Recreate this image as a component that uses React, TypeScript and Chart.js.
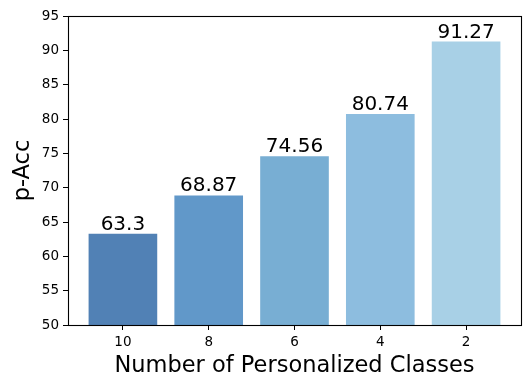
import React, { useEffect, useRef } from "react";
import { Chart, registerables } from "chart.js";

Chart.register(...registerables);

const categories: string[] = ["10", "8", "6", "4", "2"];
const values: number[] = [63.3, 68.87, 74.56, 80.74, 91.27];
const valueLabels: string[] = ["63.3", "68.87", "74.56", "80.74", "91.27"];
const barColors: string[] = ["#5181b5", "#6198c9", "#78aed3", "#8dbddf", "#a8d0e6"];
const yTicks: number[] = [50, 55, 60, 65, 70, 75, 80, 85, 90, 95];

const FONT = "'DejaVu Sans', sans-serif";

const frameAndLabels = {
  id: "frameAndLabels",
  afterDatasetsDraw(chart: any) {
    const { ctx, chartArea } = chart;
    const meta = chart.getDatasetMeta(0);
    ctx.save();
    ctx.fillStyle = "#000";
    ctx.font = `20px ${FONT}`;
    ctx.textAlign = "center";
    ctx.textBaseline = "alphabetic";
    meta.data.forEach((bar: any, i: number) => {
      ctx.fillText(valueLabels[i], bar.x, bar.y - 4);
    });
    ctx.strokeStyle = "#000";
    ctx.lineWidth = 1.1;
    ctx.strokeRect(
      Math.round(chartArea.left) + 0.5,
      Math.round(chartArea.top) + 0.5,
      Math.round(chartArea.right) - Math.round(chartArea.left),
      Math.round(chartArea.bottom) - Math.round(chartArea.top)
    );
    ctx.restore();
  },
};

export default function App() {
  const ref = useRef<HTMLCanvasElement | null>(null);

  useEffect(() => {
    document.body.style.margin = "0";
    if (!ref.current) return;
    const chart = new Chart(ref.current, {
      type: "bar",
      data: {
        datasets: [
          {
            data: values.map((v, i) => ({ x: i, y: v })),
            backgroundColor: barColors,
            borderWidth: 0,
            barPercentage: 0.8,
            categoryPercentage: 1,
          },
        ],
      },
      options: {
        animation: false,
        responsive: false,
        devicePixelRatio: 1,
        layout: { padding: { left: 0, right: 11, top: 16, bottom: 0 } },
        plugins: { legend: { display: false }, tooltip: { enabled: false } },
        scales: {
          x: {
            type: "linear",
            min: -0.64,
            max: 4.64,
            offset: false,
            afterBuildTicks: (axis: any) => {
              axis.ticks = categories.map((_, i) => ({ value: i }));
            },
            afterFit: (scale: any) => {
              scale.height = 65;
            },
            grid: {
              display: true,
              offset: false,
              drawOnChartArea: false,
              drawTicks: true,
              tickLength: 5,
              tickColor: "#000",
              tickWidth: 1,
            },
            border: { display: false },
            ticks: {
              color: "#000",
              font: { family: FONT, size: 13.5 },
              padding: 4,
              maxRotation: 0,
              autoSkip: false,
              callback: (v: any) => categories[Number(v)] ?? "",
            },
            title: {
              display: true,
              text: "Number of Personalized Classes",
              color: "#000",
              font: { family: FONT, size: 22.5 },
              padding: { top: 0, bottom: 10 },
            },
          },
          y: {
            min: 50,
            max: 95,
            afterBuildTicks: (axis: any) => {
              axis.ticks = yTicks.map((v) => ({ value: v }));
            },
            afterFit: (scale: any) => {
              scale.width = 68;
            },
            grid: {
              display: true,
              drawOnChartArea: false,
              drawTicks: true,
              tickLength: 5,
              tickColor: "#000",
              tickWidth: 1,
            },
            border: { display: false },
            ticks: {
              color: "#000",
              font: { family: FONT, size: 13.5 },
              padding: 4,
            },
            title: {
              display: true,
              text: "p-Acc",
              color: "#000",
              font: { family: FONT, size: 22.5 },
              padding: { top: 10, bottom: 0 },
            },
          },
        },
      },
      plugins: [frameAndLabels],
    });
    return () => chart.destroy();
  }, []);

  return <canvas ref={ref} width={532} height={390} style={{ display: "block" }} />;
}
